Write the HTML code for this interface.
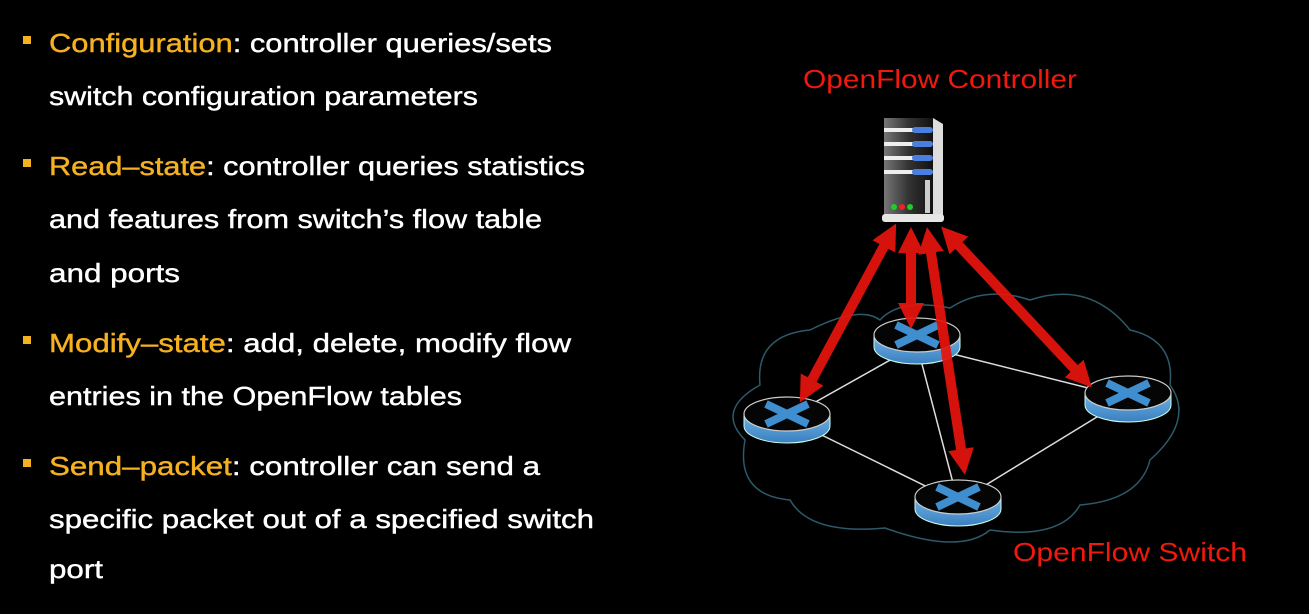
<!DOCTYPE html>
<html><head><meta charset="utf-8"><style>
html,body{margin:0;padding:0;background:#000;}
svg{display:block;}
</style></head><body>
<svg width="1309" height="614" viewBox="0 0 1309 614" xmlns="http://www.w3.org/2000/svg">
<defs>
<linearGradient id="side" x1="0" x2="0" y1="0" y2="1"><stop offset="0" stop-color="#6fb3e6"/><stop offset="1" stop-color="#3a7fbf"/></linearGradient>
<linearGradient id="srv" x1="0" x2="1" y1="0" y2="0"><stop offset="0" stop-color="#777"/><stop offset="0.5" stop-color="#333"/><stop offset="1" stop-color="#111"/></linearGradient>
<g id="sw">
<path d="M-43 0 L-43 12 A43 17 0 0 0 43 12 L43 0 Z" fill="url(#side)" stroke="#cfe" stroke-width="1"/>
<ellipse cx="0" cy="0" rx="43" ry="17" fill="#050505" stroke="#ccc" stroke-width="1.2"/>
<path d="M-21 -10 L21 10 M21 -10 L-21 10" stroke="#3f8fd0" stroke-width="8" stroke-linecap="butt"/>
</g>
<marker id="ah" viewBox="0 0 10 10" refX="5" refY="5" markerWidth="2.6" markerHeight="2.6" orient="auto-start-reverse"><path d="M0 0 L10 5 L0 10 Z" fill="#e8140c"/></marker>
</defs>
<g font-family="Liberation Sans, sans-serif" font-size="26" fill="#fff" stroke-width="0.4">
<rect x="23" y="36" width="8" height="8" fill="#f5b120"/>
<rect x="23" y="159" width="8" height="8" fill="#f5b120"/>
<rect x="23" y="336" width="8" height="8" fill="#f5b120"/>
<rect x="23" y="459" width="8" height="8" fill="#f5b120"/>
<g stroke="#fff">
<text x="49" y="52" textLength="503" lengthAdjust="spacingAndGlyphs"><tspan fill="#f5b120" stroke="#f5b120">Configuration</tspan>: controller queries/sets</text>
<text x="49" y="105" textLength="429" lengthAdjust="spacingAndGlyphs">switch configuration parameters</text>
<text x="49" y="175" textLength="536" lengthAdjust="spacingAndGlyphs"><tspan fill="#f5b120" stroke="#f5b120">Read–state</tspan>: controller queries statistics</text>
<text x="49" y="228" textLength="493" lengthAdjust="spacingAndGlyphs">and features from switch’s flow table</text>
<text x="49" y="282" textLength="131" lengthAdjust="spacingAndGlyphs">and ports</text>
<text x="49" y="352" textLength="522" lengthAdjust="spacingAndGlyphs"><tspan fill="#f5b120" stroke="#f5b120">Modify–state</tspan>: add, delete, modify flow</text>
<text x="49" y="405" textLength="413" lengthAdjust="spacingAndGlyphs">entries in the OpenFlow tables</text>
<text x="49" y="475" textLength="491" lengthAdjust="spacingAndGlyphs"><tspan fill="#f5b120" stroke="#f5b120">Send–packet</tspan>: controller can send a</text>
<text x="49" y="528" textLength="545" lengthAdjust="spacingAndGlyphs">specific packet out of a specified switch</text>
<text x="49" y="578" textLength="54" lengthAdjust="spacingAndGlyphs">port</text>
</g>
<text x="803" y="88" fill="#f0190c" textLength="274" lengthAdjust="spacingAndGlyphs">OpenFlow Controller</text>
<text x="1013" y="561" fill="#f0190c" textLength="234" lengthAdjust="spacingAndGlyphs">OpenFlow Switch</text>
</g>
<path d="M745 440 Q715 410 760 385 Q755 335 810 330 Q860 305 880 320 Q900 298 950 308 Q985 285 1030 300 Q1090 280 1130 330 Q1175 340 1170 385 Q1195 420 1150 460 Q1140 500 1080 505 Q1060 540 990 530 Q960 555 885 528 Q810 535 790 500 Q735 495 745 440 Z" fill="none" stroke="#2c5a6a" stroke-width="1.5"/>
<g stroke="#ddd" stroke-width="1.5">
<line x1="917" y1="345" x2="787" y2="418"/>
<line x1="917" y1="345" x2="1128" y2="398"/>
<line x1="917" y1="345" x2="958" y2="502"/>
<line x1="787" y1="418" x2="958" y2="502"/>
<line x1="1128" y1="398" x2="958" y2="502"/>
</g>
<use href="#sw" x="917" y="335"/>
<use href="#sw" x="787" y="414"/>
<use href="#sw" x="1128" y="393"/>
<use href="#sw" x="958" y="497"/>
<g>
<rect x="884" y="118" width="49" height="99" fill="url(#srv)"/>
<path d="M933 118 L943 124 L943 218 L933 217 Z" fill="#ddd"/>
<g fill="#eee"><rect x="884" y="128" width="30" height="4"/><rect x="884" y="142" width="30" height="4"/><rect x="884" y="156" width="30" height="4"/><rect x="884" y="170" width="30" height="4"/></g>
<g fill="#4a7fe0"><rect x="912" y="127" width="21" height="6" rx="3"/><rect x="912" y="141" width="21" height="6" rx="3"/><rect x="912" y="155" width="21" height="6" rx="3"/><rect x="912" y="169" width="21" height="6" rx="3"/></g>
<rect x="925" y="180" width="5" height="33" fill="#ccc"/>
<circle cx="894" cy="207" r="3" fill="#2c2"/><circle cx="902" cy="207" r="3" fill="#e22"/><circle cx="910" cy="207" r="3" fill="#2c2"/>
<rect x="882" y="214" width="62" height="8" rx="3" fill="#e6e6e6"/>
</g>
<g stroke="#e8140c" stroke-width="10" marker-start="url(#ah)" marker-end="url(#ah)" opacity="0.92">
<line x1="890" y1="235" x2="806" y2="391"/>
<line x1="911" y1="240" x2="911" y2="316"/>
<line x1="929" y1="240" x2="963" y2="462"/>
<line x1="950" y1="236" x2="1083" y2="378"/>
</g>
</svg>
</body></html>
